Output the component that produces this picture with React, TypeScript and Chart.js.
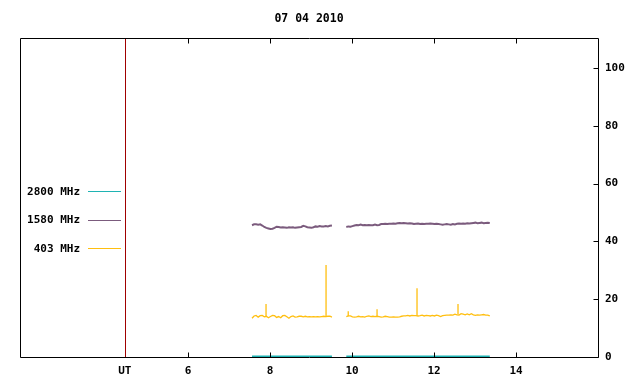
import React, { useEffect, useRef } from "react";
import { Chart, registerables } from "chart.js";
Chart.register(...registerables);

const TITLE = "07 04 2010";
const X_MIN = 1.9;
const X_MAX = 16;
const Y_MIN = 0;
const Y_MAX = 110.4;
const UT_MARK = 4.456;
const X_TICKS = [UT_MARK, 6, 8, 10, 12, 14];
const X_TICK_LABELS = ["UT", "6", "8", "10", "12", "14"];
const Y_TICKS = [0, 20, 40, 60, 80, 100];

// sampling of the two observation windows (hours UT)
const STEP = 0.05;
const SEG1_START = 7.56;
const SEG1_END = 9.51;
const SEG2_START = 9.86;
const SEG2_END = 13.36;

const SERIES_LABELS = ["2800 MHz", "1580 MHz", "403 MHz"];
const SERIES_COLORS = ["#1fb3b3", "#7b5b7d", "#ffbf10"];

const F2800_SEG1 = [0.2, 0.2];
const F2800_SEG2 = [0.2, 0.2];

const F1580_SEG1 = [
  45.6, 45.9, 45.9, 45.8, 45.9, 45.5, 45.0, 44.7, 44.5, 44.3,
  44.4, 44.7, 45.1, 45.0, 44.8, 44.9, 44.8, 44.7, 44.9, 44.8,
  44.9, 44.7, 44.8, 44.9, 45.0, 45.4, 45.2, 44.9, 44.8, 44.7,
  44.9, 45.2, 45.1, 45.3, 45.2, 45.2, 45.3, 45.2, 45.4, 45.5,
];
const F1580_SEG2 = [
  45.0, 45.2, 45.1, 45.3, 45.5, 45.7, 45.6, 45.8, 45.6, 45.7,
  45.6, 45.7, 45.6, 45.6, 45.8, 45.6, 45.7, 46.0, 46.0, 46.1,
  46.0, 46.1, 46.1, 46.2, 46.1, 46.3, 46.4, 46.3, 46.4, 46.3,
  46.2, 46.3, 46.2, 46.0, 46.1, 46.2, 46.0, 46.1, 46.0, 46.1,
  46.1, 46.2, 46.1, 46.0, 46.1, 46.0, 45.9, 45.8, 45.9, 46.0,
  45.9, 45.8, 46.0, 45.9, 46.1, 46.2, 46.1, 46.2, 46.1, 46.3,
  46.2, 46.3, 46.4, 46.5, 46.3, 46.4, 46.5, 46.3, 46.4, 46.5,
  46.4,
];
const F403_SEG1 = [
  13.4, 14.2, 14.4, 13.8, 14.3, 14.4, 13.9, 14.1, 13.6, 14.0,
  14.4, 14.3, 13.7, 14.0, 13.6, 14.3, 14.4, 13.9, 13.4, 14.0,
  14.2, 13.8, 13.9, 14.1, 14.1, 13.9, 14.1, 13.9, 14.0, 13.9,
  14.0, 13.9, 14.0, 13.9, 14.0, 14.1, 14.0, 14.1, 14.1, 13.8,
];
const F403_SEG2 = [
  14.0, 14.2, 14.2, 13.9, 13.8, 13.9, 14.1, 13.9, 14.0, 13.8,
  14.1, 14.2, 14.0, 14.1, 14.0, 14.1, 14.0, 13.8, 13.9, 14.1,
  14.0, 13.8, 13.8, 13.9, 13.8, 13.8, 13.9, 14.1, 14.2, 14.2,
  14.4, 14.2, 14.4, 14.3, 14.3, 14.2, 14.3, 14.5, 14.2, 14.4,
  14.3, 14.2, 14.4, 14.2, 14.5, 14.3, 14.0, 14.3, 14.4, 14.5,
  14.5, 14.6, 14.5, 14.8, 14.6, 14.5, 15.0, 14.8, 14.6, 14.9,
  14.6, 15.0, 14.6, 14.4, 14.6, 14.5, 14.6, 14.7, 14.5, 14.5,
  14.2,
];
// narrow bursts on 403 MHz: time, base level, peak level
const F403_SPIKE_TIMES = [7.902, 9.366, 9.907, 10.61, 11.585, 12.585];
const F403_SPIKE_BASES = [14.0, 14.0, 14.1, 14.0, 14.3, 14.6];
const F403_SPIKE_PEAKS = [18.3, 31.8, 15.8, 16.5, 23.8, 18.3];

const FONT = "'DejaVu Sans Mono', monospace";

type Pt = { x: number; y: number | null };

function sampled(start: number, vals: number[]): Pt[] {
  return vals.map((v, i) => ({ x: start + i * STEP, y: v }));
}
function joined(a: Pt[], b: Pt[]): Pt[] {
  const gapX = (a[a.length - 1].x + b[0].x) / 2;
  return [...a, { x: gapX, y: null }, ...b];
}

const framePlugin = {
  id: "frame",
  beforeDatasetsDraw(chart: any) {
    const { ctx, chartArea: a, scales } = chart;
    ctx.save();
    ctx.strokeStyle = "#a00000";
    ctx.lineWidth = 1;
    const ux = Math.round(scales.x.getPixelForValue(UT_MARK)) + 0.5;
    ctx.beginPath();
    ctx.moveTo(ux, a.top);
    ctx.lineTo(ux, a.bottom);
    ctx.stroke();
    ctx.restore();
  },
  afterDraw(chart: any) {
    const { ctx, chartArea: a, scales } = chart;
    ctx.save();
    ctx.strokeStyle = "#000";
    ctx.lineWidth = 1;
    const L = Math.round(a.left) + 0.5;
    const R = Math.round(a.right) + 0.5;
    const T = Math.round(a.top) + 0.5;
    const B = Math.round(a.bottom) + 0.5;
    ctx.beginPath();
    ctx.rect(L, T, R - L, B - T);
    const tl = 5;
    X_TICKS.forEach((v) => {
      if (v === UT_MARK) return;
      const px = Math.round(scales.x.getPixelForValue(v)) + 0.5;
      ctx.moveTo(px, B);
      ctx.lineTo(px, B - tl);
      ctx.moveTo(px, T);
      ctx.lineTo(px, T + tl);
    });
    Y_TICKS.forEach((v) => {
      const py = Math.round(scales.y.getPixelForValue(v)) + 0.5;
      ctx.moveTo(R, py);
      ctx.lineTo(R - tl, py);
    });
    ctx.stroke();

    // title
    ctx.fillStyle = "#000";
    ctx.font = `bold 11.5px ${FONT}`;
    ctx.textAlign = "center";
    ctx.textBaseline = "middle";
    ctx.fillText(TITLE, 309, 19);

    // legend
    ctx.font = `bold 11px ${FONT}`;
    const rows = [191, 219.5, 248];
    ctx.textAlign = "right";
    SERIES_LABELS.forEach((label, i) => {
      const y = rows[i];
      ctx.fillStyle = "#000";
      ctx.fillText(label, 80, y + 1);
      ctx.strokeStyle = SERIES_COLORS[i];
      ctx.beginPath();
      ctx.moveTo(88, Math.round(y) + 0.5);
      ctx.lineTo(121, Math.round(y) + 0.5);
      ctx.stroke();
    });
    ctx.restore();
  },
};

export default function App() {
  const ref = useRef<HTMLCanvasElement | null>(null);
  useEffect(() => {
    if (!ref.current) return;
    const cyan = joined(
      [
        { x: SEG1_START, y: F2800_SEG1[0] },
        { x: SEG1_END, y: F2800_SEG1[1] },
      ],
      [
        { x: SEG2_START, y: F2800_SEG2[0] },
        { x: SEG2_END, y: F2800_SEG2[1] },
      ]
    );
    const purple = joined(sampled(SEG1_START, F1580_SEG1), sampled(SEG2_START, F1580_SEG2));
    const orange = joined(sampled(SEG1_START, F403_SEG1), sampled(SEG2_START, F403_SEG2));
    const spikes: Pt[] = [];
    F403_SPIKE_TIMES.forEach((t, i) => {
      spikes.push({ x: t, y: F403_SPIKE_BASES[i] }, { x: t, y: F403_SPIKE_PEAKS[i] }, { x: t + 0.001, y: null });
    });
    const common = { pointRadius: 0, tension: 0, spanGaps: false, fill: false };
    const chart = new Chart(ref.current, {
      type: "line",
      data: {
        datasets: [
          { ...common, label: SERIES_LABELS[0], data: cyan, borderColor: SERIES_COLORS[0], borderWidth: 2 },
          { ...common, label: SERIES_LABELS[1], data: purple, borderColor: SERIES_COLORS[1], borderWidth: 2 },
          { ...common, label: SERIES_LABELS[2], data: orange, borderColor: SERIES_COLORS[2], borderWidth: 1.3 },
          { ...common, label: SERIES_LABELS[2] + " bursts", data: spikes, borderColor: SERIES_COLORS[2], borderWidth: 1.3 },
        ],
      },
      options: {
        animation: false,
        responsive: false,
        devicePixelRatio: 1,
        layout: { padding: { left: 20, top: 38, right: 0, bottom: 0 } },
        plugins: { legend: { display: false }, title: { display: false }, tooltip: { enabled: false } },
        scales: {
          x: {
            type: "linear",
            position: "bottom",
            min: X_MIN,
            max: X_MAX,
            grid: { display: false, drawTicks: false },
            border: { display: false },
            afterBuildTicks: (s: any) => {
              s.ticks = X_TICKS.map((v) => ({ value: v }));
            },
            afterFit: (s: any) => {
              s.height = 27;
            },
            ticks: {
              padding: 8,
              maxRotation: 0,
              autoSkip: false,
              color: "#000",
              font: { family: FONT, size: 11, weight: "bold" },
              callback: (v: any) => {
                const i = X_TICKS.indexOf(Number(v));
                return i >= 0 ? X_TICK_LABELS[i] : "";
              },
            },
          },
          y: {
            type: "linear",
            position: "right",
            min: Y_MIN,
            max: Y_MAX,
            grid: { display: false, drawTicks: false },
            border: { display: false },
            afterBuildTicks: (s: any) => {
              s.ticks = Y_TICKS.map((v) => ({ value: v }));
            },
            afterFit: (s: any) => {
              s.width = 42;
            },
            ticks: {
              padding: 7,
              autoSkip: false,
              color: "#000",
              font: { family: FONT, size: 11, weight: "bold" },
              callback: (v: any) => String(v),
            },
          },
        },
      },
      plugins: [framePlugin],
    } as any);
    return () => chart.destroy();
  }, []);
  return (
    <div style={{ position: "absolute", left: 0, top: 0, width: 640, height: 384, background: "#fff" }}>
      <canvas ref={ref} width={640} height={384} style={{ display: "block" }} />
    </div>
  );
}
